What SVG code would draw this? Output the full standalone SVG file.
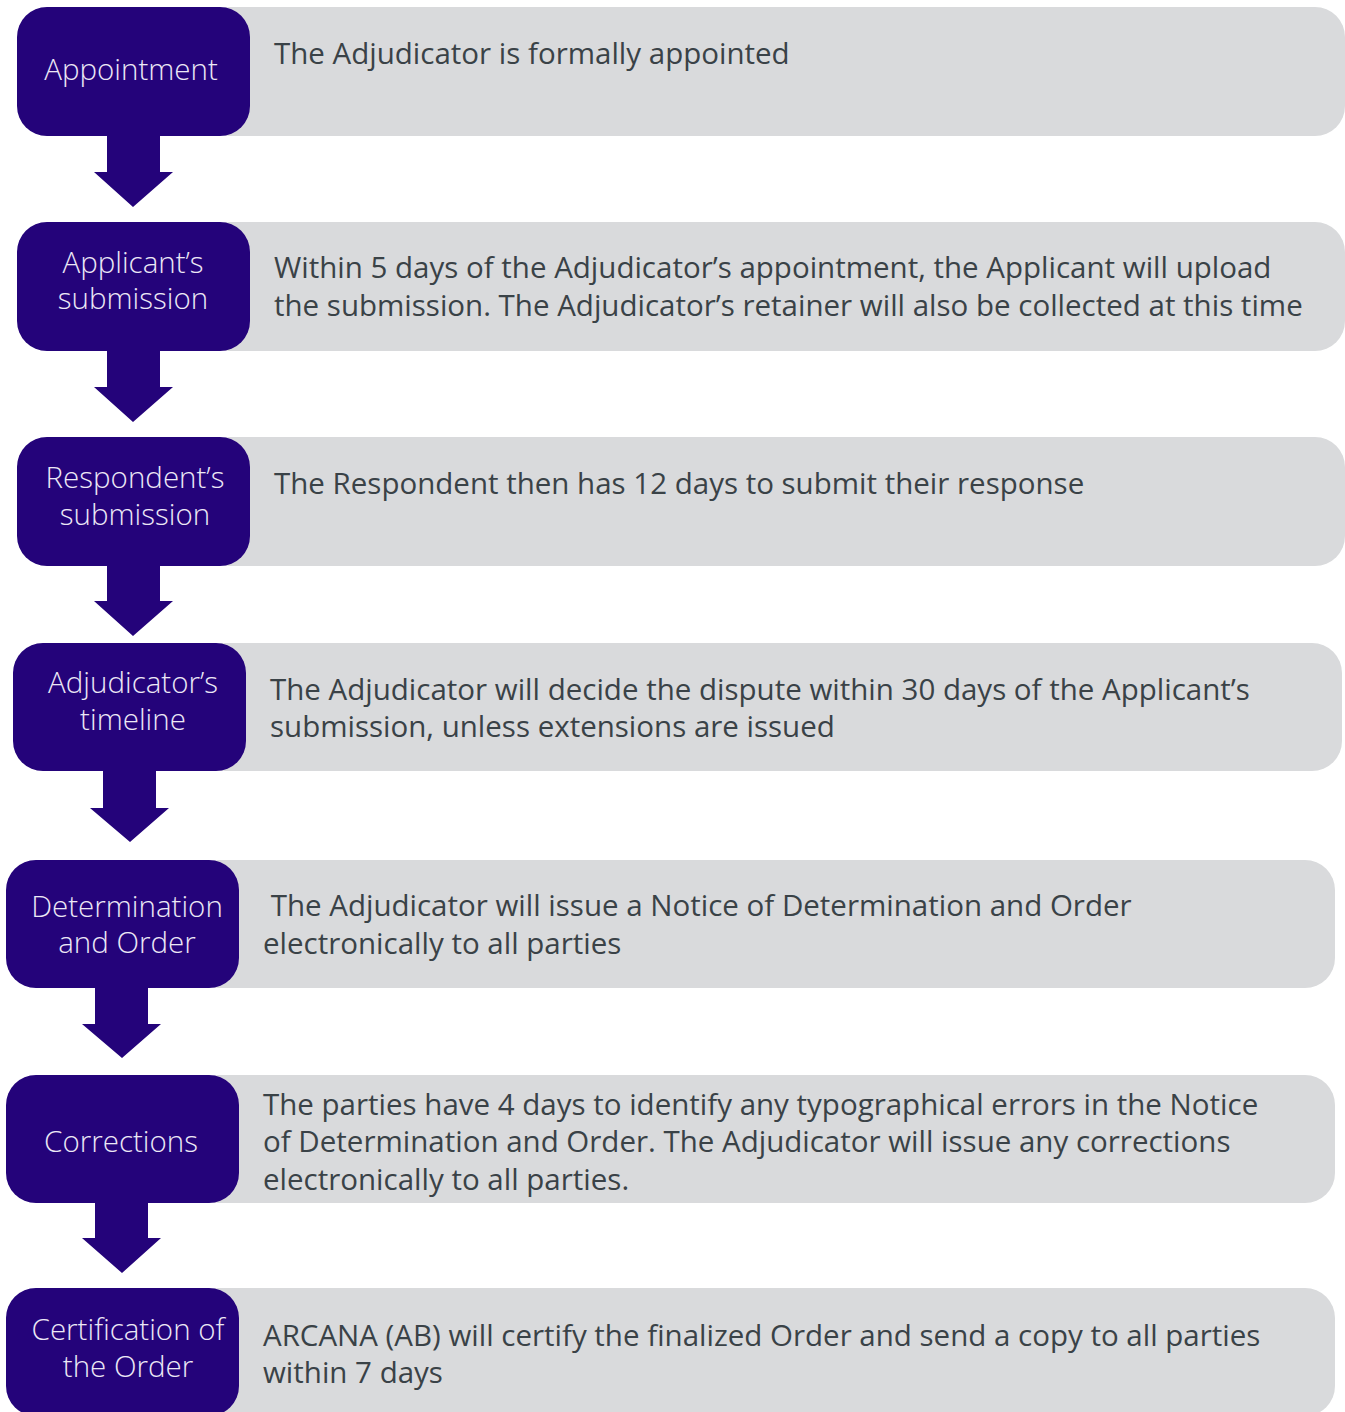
<svg xmlns="http://www.w3.org/2000/svg" width="1345" height="1412" viewBox="0 0 1345 1412">
<style>
.bg{fill:#d9dadc}
.st{fill:#24037a}
.lb{font-family:"Open Sans","Liberation Sans",sans-serif;font-weight:300;font-size:29.5px;fill:#ece8f6;text-anchor:middle}
.tx{font-family:"Open Sans","Liberation Sans",sans-serif;font-size:29.5px;fill:#3a4247}
.ar{fill:#24037a}
</style>
<rect width="1345" height="1412" fill="#ffffff"/>
<g id="connectors">
<polygon class="ar" points="107,130 160,130 160,172 173,172 133,207 94,172 107,172"/>
<polygon class="ar" points="107,345 160,345 160,387 173,387 133,422 94,387 107,387"/>
<polygon class="ar" points="107,560 160,560 160,601 173,601 133,636 94,601 107,601"/>
<polygon class="ar" points="103,765 156,765 156,808 169,808 130,842 90,808 103,808"/>
<polygon class="ar" points="95,982 148,982 148,1024 161,1024 122,1058 82,1024 95,1024"/>
<polygon class="ar" points="95,1197 148,1197 148,1238 161,1238 122,1273 82,1238 95,1238"/>
</g>
<g id="node-appointment">
<rect class="bg" x="200" y="7" width="1145" height="129" rx="30"/>
<rect class="st" x="17" y="7" width="233" height="129" rx="30"/>
<text class="lb" x="131" y="80">Appointment</text>
<text class="tx" x="274" y="64">The Adjudicator is formally appointed</text>
</g>
<g id="node-applicant">
<rect class="bg" x="200" y="222" width="1145" height="129" rx="30"/>
<rect class="st" x="17" y="222" width="233" height="129" rx="30"/>
<text class="lb" x="133" y="273">Applicant’s</text>
<text class="lb" x="133" y="309">submission</text>
<text class="tx" x="274" y="278">Within 5 days of the Adjudicator’s appointment, the Applicant will upload</text>
<text class="tx" x="274" y="316">the submission. The Adjudicator’s retainer will also be collected at this time</text>
</g>
<g id="node-respondent">
<rect class="bg" x="200" y="437" width="1145" height="129" rx="30"/>
<rect class="st" x="17" y="437" width="233" height="129" rx="30"/>
<text class="lb" x="135" y="488">Respondent’s</text>
<text class="lb" x="135" y="525">submission</text>
<text class="tx" x="274" y="494">The Respondent then has 12 days to submit their response</text>
</g>
<g id="node-timeline">
<rect class="bg" x="196" y="643" width="1146" height="128" rx="30"/>
<rect class="st" x="13" y="643" width="233" height="128" rx="30"/>
<text class="lb" x="133" y="693">Adjudicator’s</text>
<text class="lb" x="133" y="730">timeline</text>
<text class="tx" x="270" y="700">The Adjudicator will decide the dispute within 30 days of the Applicant’s</text>
<text class="tx" x="270" y="737">submission, unless extensions are issued</text>
</g>
<g id="node-determination">
<rect class="bg" x="189" y="860" width="1146" height="128" rx="30"/>
<rect class="st" x="6" y="860" width="233" height="128" rx="30"/>
<text class="lb" x="127" y="917">Determination</text>
<text class="lb" x="127" y="953">and Order</text>
<text class="tx" x="263" y="916" xml:space="preserve"> The Adjudicator will issue a Notice of Determination and Order</text>
<text class="tx" x="263" y="954">electronically to all parties</text>
</g>
<g id="node-corrections">
<rect class="bg" x="189" y="1075" width="1146" height="128" rx="30"/>
<rect class="st" x="6" y="1075" width="233" height="128" rx="30"/>
<text class="lb" x="121" y="1152">Corrections</text>
<text class="tx" x="263" y="1115">The parties have 4 days to identify any typographical errors in the Notice</text>
<text class="tx" x="263" y="1152">of Determination and Order. The Adjudicator will issue any corrections</text>
<text class="tx" x="263" y="1190">electronically to all parties.</text>
</g>
<g id="node-certification">
<rect class="bg" x="189" y="1288" width="1146" height="128" rx="30"/>
<rect class="st" x="6" y="1288" width="233" height="128" rx="30"/>
<text class="lb" x="128" y="1340">Certification of</text>
<text class="lb" x="128" y="1377">the Order</text>
<text class="tx" x="263" y="1346">ARCANA (AB) will certify the finalized Order and send a copy to all parties</text>
<text class="tx" x="263" y="1383">within 7 days</text>
</g>
</svg>
